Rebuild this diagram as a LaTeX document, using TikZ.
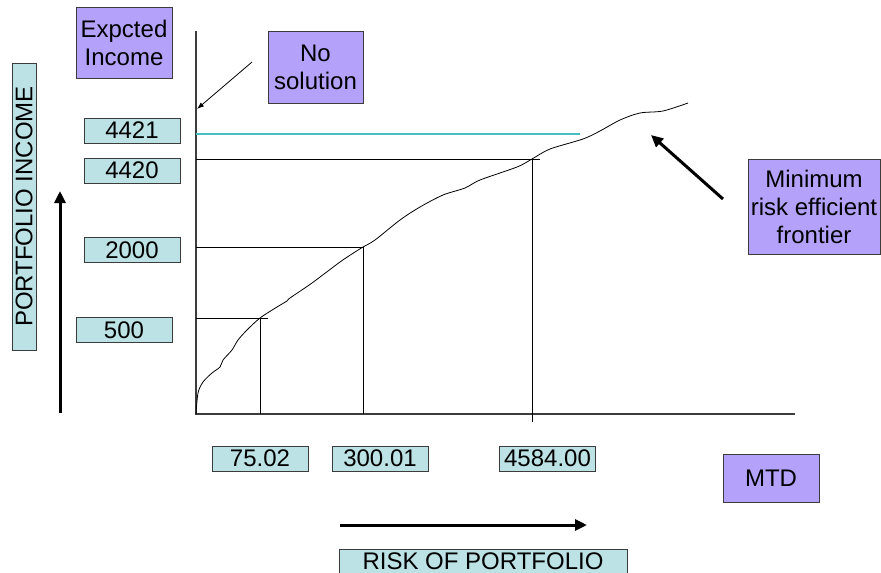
\documentclass[tikz,border=0pt]{standalone}
\usepackage{fontspec}
\setmainfont{Liberation Sans}
\newcommand*{\chartfont}{\fontsize{24}{28}\selectfont}
\definecolor{P}{RGB}{180,162,250}
\definecolor{V}{RGB}{188,226,229}
\definecolor{L}{RGB}{72,190,190}
\definecolor{edge}{RGB}{60,60,60}
\usetikzlibrary{arrows.meta}
\usetikzlibrary{positioning}
\tikzstyle{base}=[x=1pt, y=-1pt, inner sep=0pt, outer sep=0pt]
\tikzstyle{tag}=[draw=edge, fill=P, align=center, minimum width=96pt]
\tikzstyle{val}=[draw=edge, fill=V, minimum width=96pt, minimum height=25pt]
\tikzstyle{axis}=[edge, line width=1.2pt]
\tikzstyle{guide}=[black, line width=0.8pt]
\tikzstyle{pointer}=[-{Triangle[length=12pt, width=11pt]}, line width=3pt]
\begin{document}
\begin{tikzpicture}[base]
    \chartfont
        \path [use as bounding box] (0,0) rectangle (881,573);
        \clip (0,0) rectangle (881,573);
        % labels
        \node [tag, minimum height=71pt] (expected) at (124,42.5) {Expcted\\Income};
        \node [tag, minimum width=95pt, minimum height=72pt] (nosol) at (315.5,67) {No\\solution};
        \node [tag, minimum width=132pt, minimum height=95pt] (minrisk) at (814,206.5) {Minimum\\risk efficient\\frontier};
        \node [tag, minimum height=48pt] (mtd) at (771,478) {MTD};
        \node [val] (v4421) at (132,130.5) {4421};
        \node [val] (v4420) at (132,170.5) {4420};
        \node [val] (v2000) at (132,250) {2000};
        \node [val] (v500) at (124,330) {500};
        \node [val] (t7502) at (260,458.5) {75.02};
        \node [val] (t30001) at (380,458.5) {300.01};
        \node [val] (t4584) at (547.5,458.5) {4584.00};
        \node [val, minimum width=287pt, minimum height=24pt, rotate=90] (pincome) at (24,206.5) {PORTFOLIO INCOME};
        \node [val, minimum width=288pt] (riskport) at (483,561.5) {RISK OF PORTFOLIO};
        % axes
        \coordinate (o) at (196,414);
        \coordinate (ytop) at (196,31);
        \coordinate (xend) at (795,414);
        \draw [axis] (ytop) -- (o) -- (xend);
        % frontier
        \draw [black, line width=0.8pt] plot [smooth, tension=0.5] coordinates {(196,414) (198,393) (203,382) (212,373) (220,367) (223,360) (232,350) (238,340) (247,330) (260,318) (277,307) (287,301) (290,298) (312,283) (340,262) (355,252) (363,247) (375,240) (400,220) (420,207) (443,195) (465,188) (480,180) (517,167) (532,159) (550,149) (583,139) (600,131) (620,120) (640,113) (663,111) (688,103)};
        % guide lines
        \coordinate (a500) at (196,318);
        \coordinate (e500) at (268,318);
        \coordinate (c500) at (260,318);
        \coordinate (b500) at (260,414);
        \coordinate (a2000) at (196,247);
        \coordinate (c2000) at (363,247);
        \coordinate (b2000) at (363,414);
        \coordinate (a4420) at (196,159);
        \coordinate (e4420) at (540,159);
        \coordinate (c4420) at (532,159);
        \coordinate (b4420) at (532,422);
        \coordinate (a4421) at (196,134);
        \coordinate (e4421) at (580,134);
        \draw [guide] (a500) -- (e500);
        \draw [guide] (c500) -- (b500);
        \draw [guide] (a2000) -- (c2000) -- (b2000);
        \draw [guide] (a4420) -- (e4420);
        \draw [guide] (c4420) -- (b4420);
        \draw [L, line width=1.2pt] (a4421) -- (e4421);
        % arrows
        \coordinate (nstart) at (252,62);
        \coordinate (nend) at (197,109);
        \draw [-{Latex[length=7pt, width=5pt]}, black, line width=0.8pt] (nstart) -- (nend);
        \coordinate (mstart) at (723,199);
        \coordinate (mend) at (651,135);
        \draw [pointer] (mstart) -- (mend);
        \coordinate (ustart) at (60,413);
        \coordinate (uend) at (60,191);
        \draw [pointer] (ustart) -- (uend);
        \coordinate (rstart) at (340,525);
        \coordinate (rend) at (587,525);
        \draw [pointer] (rstart) -- (rend);
    \end{tikzpicture}
\end{document}
